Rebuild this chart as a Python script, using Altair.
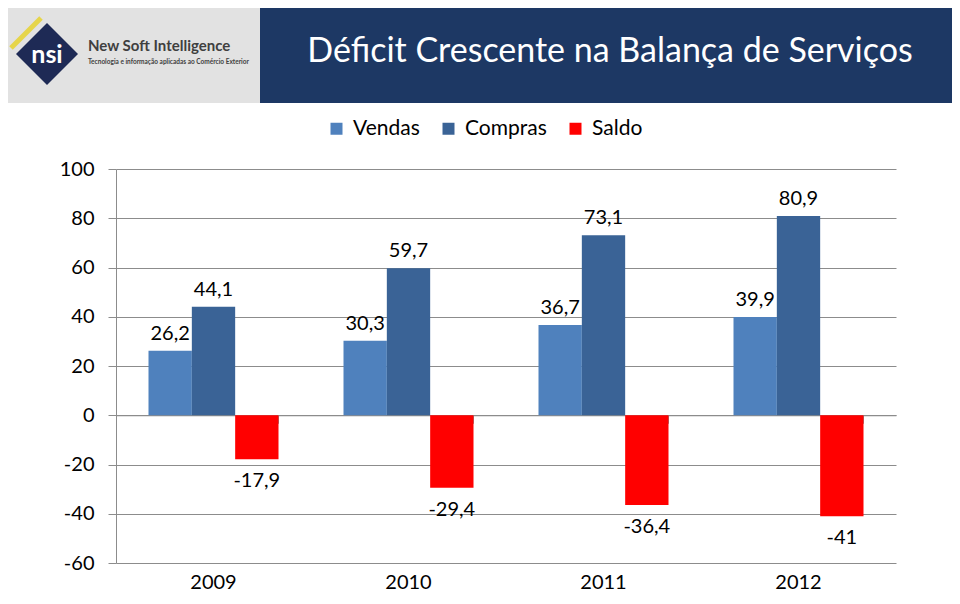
import altair as alt
import pandas as pd

# ---- data ----
years = ["2009", "2010", "2011", "2012"]
series = ["Vendas", "Compras", "Saldo"]
vendas = [26.2, 30.3, 36.7, 39.9]
compras = [44.1, 59.7, 73.1, 80.9]
saldo = [-17.9, -29.4, -36.4, -41.0]
y_ticks = [-60, -40, -20, 0, 20, 40, 60, 80, 100]
title_text = "Déficit Crescente na Balança de Serviços"
brand_name = "New Soft Intelligence"
brand_tag = "Tecnologia e informação aplicadas ao Comércio Exterior"
brand_logo = "nsi"

# ---- styles ----
colors = ["#4F81BD", "#3A6396", "#FF0000"]
GRID = "#8C8C8C"
FONT = "Lato"
W, H = 780, 394

rows = []
for s, vals in zip(series, [vendas, compras, saldo]):
    for yr, v in zip(years, vals):
        rows.append({"ano": yr, "serie": s, "valor": v,
                     "rotulo": f"{v:g}".replace(".", ",")})
df = pd.DataFrame(rows)

x_scale = alt.Scale(domain=years, paddingInner=1 / 3, paddingOuter=1 / 6)
y_scale = alt.Scale(domain=[-60, 100], nice=False, zero=False)
xo_scale = alt.Scale(domain=series, paddingInner=0, paddingOuter=0)
x_axis = alt.Axis(orient="bottom", offset=-(H * 60 / 160), labels=False, title=None,
                  bandPosition=1, tickSize=8, domainColor=GRID, tickColor=GRID,
                  grid=False)
y_axis = alt.Axis(values=y_ticks, title=None, grid=True, gridColor=GRID,
                  domainColor=GRID, tickColor=GRID, tickSize=8, labelPadding=14,
                  labelFontSize=20, labelColor="black", labelFont=FONT,
                  labelExpr="'' + datum.value")

X = alt.X("ano:N", scale=x_scale, axis=x_axis)
XO = alt.XOffset("serie:N", scale=xo_scale)
Y = alt.Y("valor:Q", scale=y_scale, axis=y_axis)

base = alt.Chart(df)
bars = base.mark_bar().encode(
    x=X, xOffset=XO, y=Y,
    color=alt.Color("serie:N", scale=alt.Scale(domain=series, range=colors),
                    legend=alt.Legend(orient="none", direction="horizontal",
                                      legendX=210, legendY=-51, title=None,
                                      labelFontSize=21, labelFont=FONT,
                                      labelColor="black", symbolType="square",
                                      symbolSize=144, symbolStrokeWidth=0,
                                      labelOffset=6, columnPadding=18)),
)
pos = base.transform_filter("datum.valor >= 0").mark_text(
    dy=-11, baseline="alphabetic", fontSize=20, font=FONT, color="black"
).encode(x=X, xOffset=XO, y=Y, text="rotulo:N")
neg = base.transform_filter("datum.valor < 0").mark_text(
    dy=28, baseline="alphabetic", fontSize=20, font=FONT, color="black"
).encode(x=X, xOffset=XO, y=Y, text="rotulo:N")

yr_labels = alt.Chart(pd.DataFrame({"ano": years})).mark_text(
    baseline="alphabetic", dy=26, fontSize=20, font=FONT, color="black"
).encode(x=X, y=alt.YDatum(-60, scale=y_scale, axis=y_axis), text="ano:N")

one = alt.Data(values=[{"k": 1}])
grey = alt.Chart(one).mark_rect(color="#E2E2E2").encode(
    x=alt.value(-116), x2=alt.value(144), y=alt.value(-169), y2=alt.value(-66))
navy = alt.Chart(one).mark_rect(color="#1D3864").encode(
    x=alt.value(144), x2=alt.value(850), y=alt.value(-169), y2=alt.value(-66))
title = alt.Chart(one).mark_text(
    text=title_text, color="white", fontSize=34, font=FONT,
    align="center", baseline="middle").encode(x=alt.value(494), y=alt.value(-117))
stripe = alt.Chart(one).mark_rule(color="#E6D54A", strokeWidth=5).encode(
    x=alt.value(11 - 116), x2=alt.value(41 - 116),
    y=alt.value(48 - 169), y2=alt.value(18 - 169))
diamond = alt.Chart(one).mark_point(shape="diamond", filled=True, color="#1E2A55",
                                    size=3844, opacity=1).encode(
    x=alt.value(47 - 116), y=alt.value(54 - 169))
logo = alt.Chart(one).mark_text(text=brand_logo, color="white", fontSize=25,
                                fontWeight="bold", font=FONT, align="center",
                                baseline="middle").encode(
    x=alt.value(47 - 116), y=alt.value(55 - 169))
name = alt.Chart(one).mark_text(text=brand_name, color="#3F3F3F", fontSize=15,
                                fontWeight="bold", font=FONT, align="left",
                                baseline="alphabetic").encode(
    x=alt.value(88 - 116), y=alt.value(51 - 169))
tag = alt.Chart(one).mark_text(text=brand_tag, color="#3F3F3F", fontSize=6.5,
                               fontWeight="bold", font=FONT, align="left",
                               baseline="alphabetic").encode(
    x=alt.value(88 - 116), y=alt.value(64 - 169))

chart = alt.layer(
    grey, navy, title, stripe, diamond, logo, name, tag,
    bars, pos, neg, yr_labels,
).properties(
    width=W, height=H,
    autosize=alt.AutoSizeParams(type="none"),
    padding={"left": 108, "top": 161, "right": 56, "bottom": 33},
).configure(font=FONT).configure_view(stroke=None)

chart.save("out.html", embed_options={"renderer": "svg", "actions": False})
